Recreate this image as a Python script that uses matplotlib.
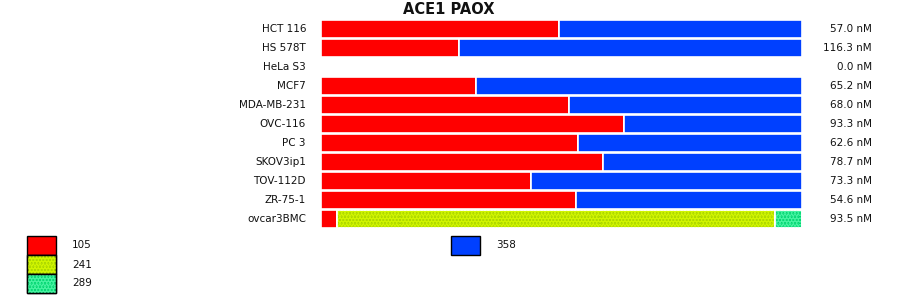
import numpy as np
import matplotlib.pyplot as plt
from matplotlib.patches import Rectangle

cells = ["HCT 116", "HS 578T", "HeLa S3", "MCF7", "MDA-MB-231", "OVC-116",
         "PC 3", "SKOV3ip1", "TOV-112D", "ZR-75-1", "ovcar3BMC"]
conc = ["57.0 nM", "116.3 nM", "0.0 nM", "65.2 nM", "68.0 nM", "93.3 nM",
        "62.6 nM", "78.7 nM", "73.3 nM", "54.6 nM", "93.5 nM"]

# fractions per series (stacked to 1)
s105 = [0.495, 0.287, 0.0, 0.322, 0.516, 0.630, 0.534, 0.586, 0.437, 0.530, 0.033]
s241 = [0.0, 0.0, 0.0, 0.0, 0.0, 0.0, 0.0, 0.0, 0.0, 0.0, 0.911]
s289 = [0.0, 0.0, 0.0, 0.0, 0.0, 0.0, 0.0, 0.0, 0.0, 0.0, 0.056]
s358 = [0.505, 0.713, 0.0, 0.678, 0.484, 0.370, 0.466, 0.414, 0.563, 0.470, 0.0]

series = [("105", s105, "#ff0000", None, None),
          ("241", s241, "#a8d400", ".....", "#d0f400"),
          ("289", s289, "#00d470", ".....", "#44f2a0"),
          ("358", s358, "#0040ff", None, None)]

plt.rcParams['hatch.linewidth'] = 3.0

fig = plt.figure(figsize=(9, 2.99), dpi=100)
ax = fig.add_axes([321/900, 1 - 228.5/299, 481/900, 209/299])

y = np.arange(len(cells))
left = np.zeros(len(cells))
for name, vals, col, hatch, hcol in series:
    vals = np.array(vals)
    ax.barh(y, vals, left=left, height=0.95, color=col, edgecolor='white', linewidth=1.2)
    if hatch:
        ax.barh(y, vals, left=left, height=0.95, color='none', edgecolor=hcol,
                linewidth=0, hatch=hatch)
        ax.barh(y, vals, left=left, height=0.95, color='none', edgecolor='white',
                linewidth=1.2)
    left += vals

ax.set_xlim(0, 1)
ax.set_ylim(len(cells) - 0.5, -0.5)
ax.axis('off')

for i, (c, t) in enumerate(zip(cells, conc)):
    yy = (29 + 19 * i) / 299
    fig.text(306/900, 1 - yy, c, ha='right', va='center', fontsize=7.5, color='#111111')
    fig.text(872/900, 1 - yy, t, ha='right', va='center', fontsize=7.5, color='#111111')

fig.text(449/900, 1 - 10/299, "ACE1 PAOX", ha='center', va='center',
         fontsize=10.5, fontweight='bold', color='#111111')

# legend
leg = [(27, 236, "105"), (27, 255, "241"), (27, 274, "289"), (451, 236, "358")]
for (lx, ly, name), (_, _, col, hatch, hcol) in zip(leg, series):
    r = Rectangle((lx/900, 1 - (ly + 19)/299), 29/900, 19/299, transform=fig.transFigure,
                  facecolor=col, edgecolor='black', linewidth=1.0)
    fig.patches.append(r)
    if hatch:
        fig.patches.append(Rectangle((lx/900, 1 - (ly + 19)/299), 29/900, 19/299,
                                     transform=fig.transFigure, facecolor='none',
                                     edgecolor=hcol, linewidth=0, hatch=hatch))
        fig.patches.append(Rectangle((lx/900, 1 - (ly + 19)/299), 29/900, 19/299,
                                     transform=fig.transFigure, facecolor='none',
                                     edgecolor='black', linewidth=1.0))
    fig.text((lx + 45)/900, 1 - (ly + 9.5)/299, name, ha='left', va='center',
             fontsize=7.5, color='#111111')

fig.savefig("out.png", dpi=100)
